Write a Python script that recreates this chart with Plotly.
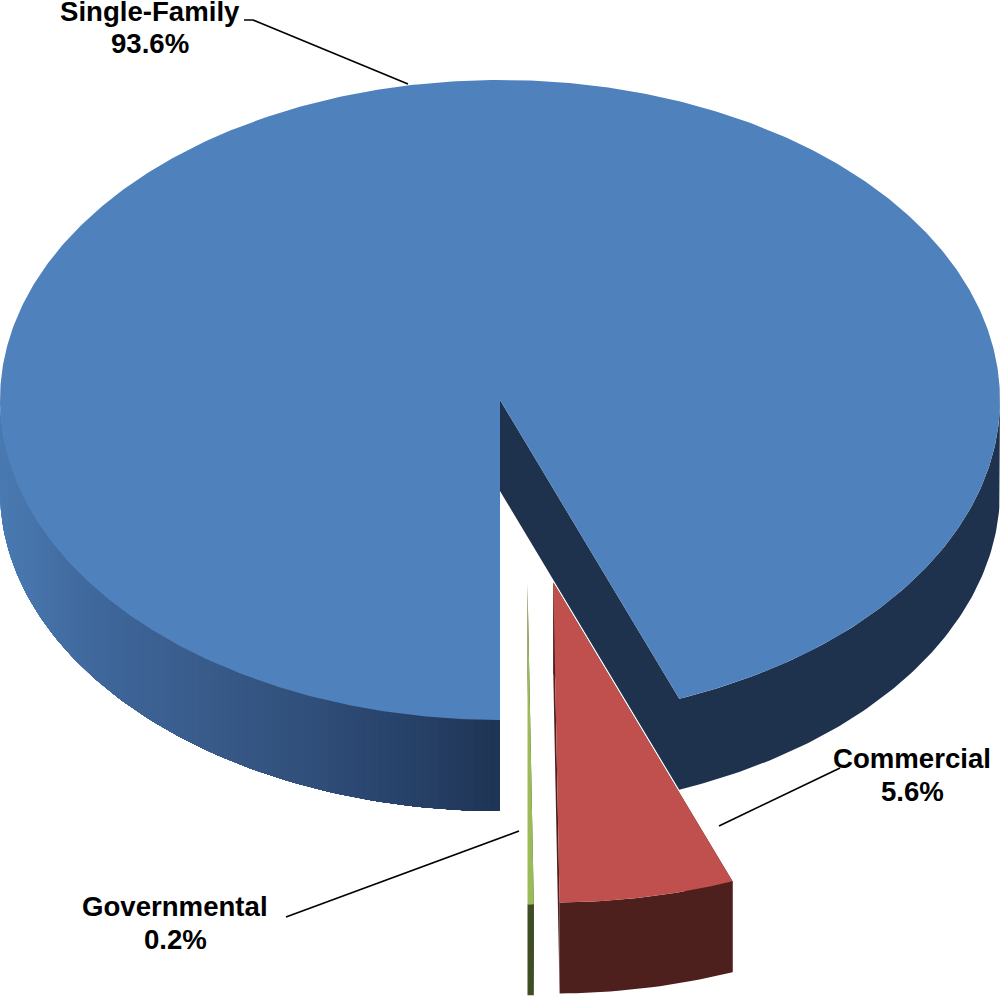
import numpy as np
import plotly.graph_objects as go

categories = ["Single-Family", "Commercial", "Governmental"]
values = [93.6, 5.6, 0.2]
value_labels = ["93.6%", "5.6%", "0.2%"]

# slices run clockwise from "straight down" in this order
draw_order = ["Governmental", "Commercial", "Single-Family"]
top_colors = {"Single-Family": "#4f81bd", "Commercial": "#c0504d", "Governmental": "#9bbb59"}
side_colors = {"Commercial": "#4d1f1d", "Governmental": "#3f4d24"}
face_colors = {"Single-Family": "#1e324e", "Commercial": "#4d1f1d", "Governmental": "#3f4d24"}
apex = {"Single-Family": (500, 400), "Commercial": (553.3, 582.5), "Governmental": (527.5, 584.3)}
RX, RY, DEPTH = 500, 320, 91
rim_stops_x = [0, 100, 250, 400, 500]
rim_stops_rgb = [(74, 122, 178), (63, 103, 155), (53, 86, 131), (40, 67, 107), (31, 52, 84)]

lookup = dict(zip(categories, values))
total = sum(values)
fig = go.Figure()


def poly(x, y, color, name):
    fig.add_trace(go.Scatter(x=list(x), y=list(y), mode="lines", fill="toself", fillcolor=color,
                             line=dict(color=color, width=0), hoverinfo="skip",
                             showlegend=False, name=name))


def ex(cx, t):
    return cx + RX * np.sin(t)


def ey(cy, t):
    return cy + RY * np.cos(t)


def rim(cx, cy, t0, t1, color, name):
    grid = np.linspace(t0, t1, max(3, int(np.degrees(t1 - t0)) + 2))
    xs, ys = ex(cx, grid), ey(cy, grid)
    poly(list(xs) + list(xs[::-1]) + [xs[0]],
         list(ys) + list((ys + DEPTH)[::-1]) + [ys[0]], color, name)


start = 0.0
slices = []
for name in draw_order:
    sweep = lookup[name] / total * 2 * np.pi
    slices.append((name, start, start + sweep))
    start += sweep

# Largest slice first, so the exploded slices sit in front of it
for name, a0, a1 in reversed(slices):
    cx, cy = apex[name]
    if name == "Single-Family":
        # cut face and flat dark right-hand rim as one outline, so no seam shows between them
        grid = np.linspace(a0, np.pi / 2, 90)
        xs, ys = ex(cx, grid), ey(cy, grid)
        poly([cx] + list(xs) + list(xs[::-1]) + [cx, cx],
             [cy] + list(ys) + list((ys + DEPTH)[::-1]) + [cy + DEPTH, cy],
             face_colors[name], name)
        # shaded rim on the left: painted band over band so that no seams show
        bands = np.linspace(1.5 * np.pi, a1, 91)
        for t0, t1 in zip(bands[:-1], bands[1:]):
            xm = float(ex(cx, (t0 + t1) / 2))
            rgb = [int(round(np.interp(xm, rim_stops_x, [c[i] for c in rim_stops_rgb]))) for i in range(3)]
            rim(cx, cy, t0, a1, "rgb(%d,%d,%d)" % tuple(rgb), name)
    else:
        rim(cx, cy, a0, a1, side_colors[name], name)
        for a in (a0, a1):
            xe, ye = ex(cx, a), ey(cy, a)
            poly([cx, xe, xe, cx, cx], [cy, ye, ye + DEPTH, cy + DEPTH, cy], face_colors[name], name)
    # top face
    n_top = max(2, int((a1 - a0) / np.radians(0.5)) + 1)
    tt = np.linspace(a0, a1, n_top + 1)
    poly([cx] + list(ex(cx, tt)) + [cx], [cy] + list(ey(cy, tt)) + [cy], top_colors[name], name)

leaders = [
    [(244, 20), (253, 20), (408, 84)],
    [(719, 826), (840, 768)],
    [(286, 917), (519, 831)],
]
shapes = []
for pts in leaders:
    path = "M " + " L ".join("%g,%g" % p for p in pts)
    shapes.append(dict(type="path", path=path, line=dict(color="#000000", width=1.7), xref="x", yref="y"))

label_pos = {
    "Single-Family": (150, 11, 43),
    "Commercial": (912, 758, 791),
    "Governmental": (175, 906, 939),
}
annotations = []
for name, vl in zip(categories, value_labels):
    x, y1, y2 = label_pos[name]
    for text, y in ((name, y1), (vl, y2)):
        annotations.append(dict(x=x, y=y, text="<b>%s</b>" % text, showarrow=False, xref="x", yref="y",
                                xanchor="center", yanchor="middle",
                                font=dict(family="Liberation Sans, Arial, sans-serif", size=27.6, color="#000000")))

fig.update_layout(
    width=1000, height=997, margin=dict(l=0, r=0, t=0, b=0),
    paper_bgcolor="#ffffff", plot_bgcolor="#ffffff", showlegend=False,
    xaxis=dict(range=[0, 1000], visible=False, fixedrange=True),
    yaxis=dict(range=[997, 0], visible=False, fixedrange=True),
    shapes=shapes, annotations=annotations,
)
fig.write_html("out.html", config=dict(displayModeBar=False),
               post_script="document.body.style.margin='0';")
